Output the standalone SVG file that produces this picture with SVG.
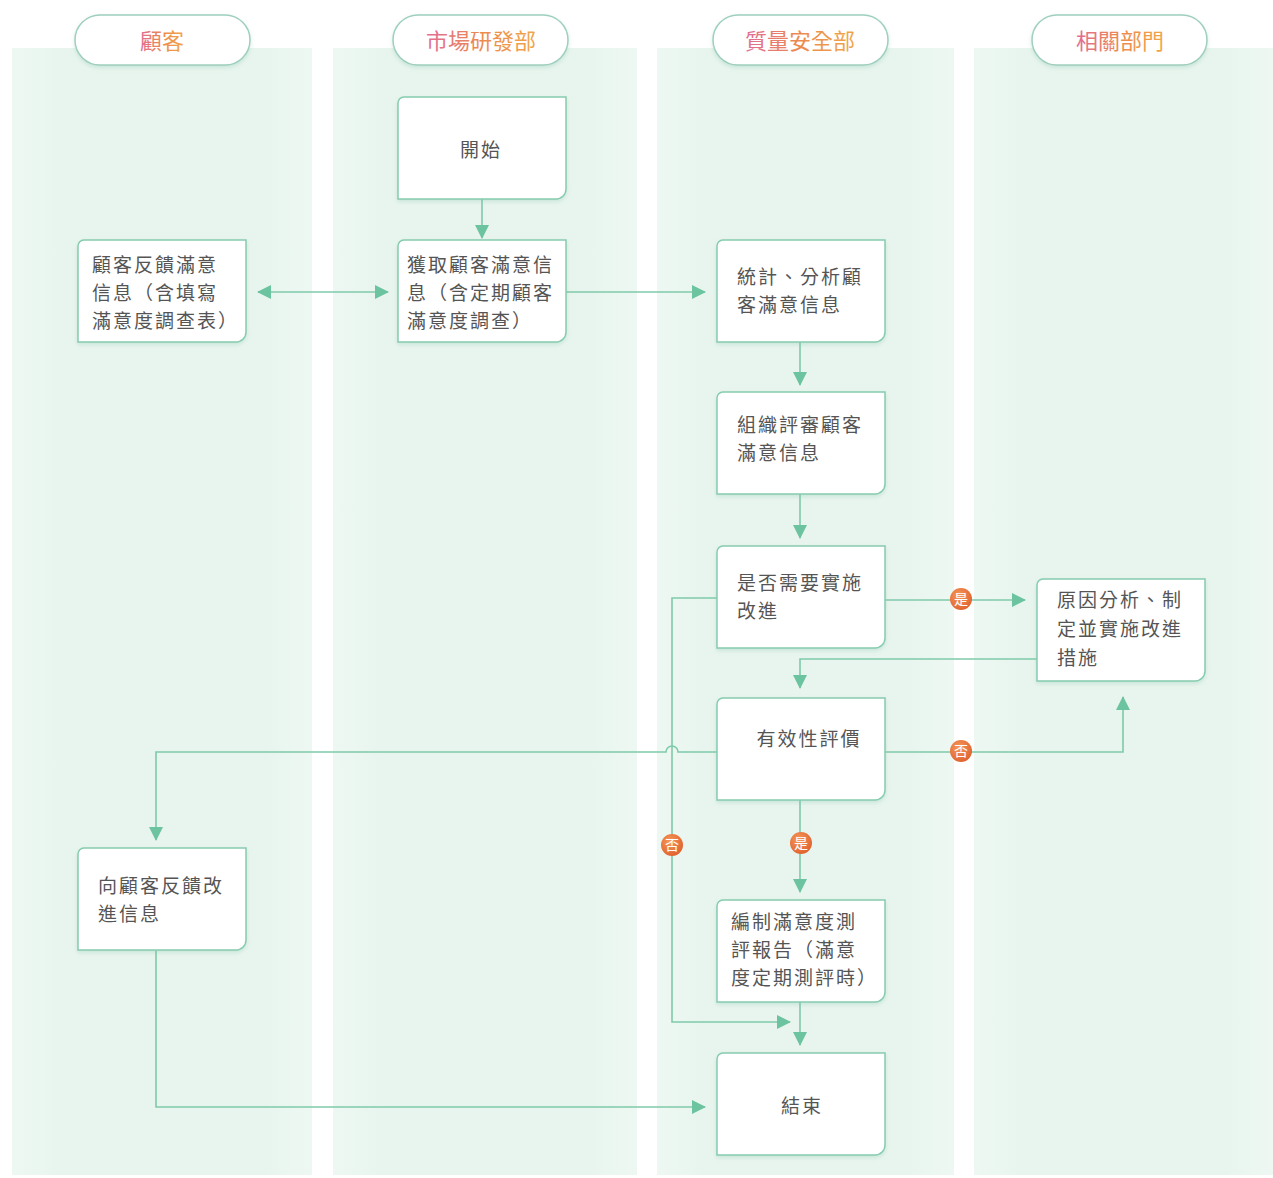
<svg xmlns="http://www.w3.org/2000/svg" width="1273" height="1178" viewBox="0 0 1273 1178">
<defs>
<linearGradient id="hg" x1="0" y1="0" x2="1" y2="0">
<stop offset="0" stop-color="#e06c96"/>
<stop offset="0.5" stop-color="#ec8a4e"/>
<stop offset="1" stop-color="#f0a64a"/>
</linearGradient>
<linearGradient id="lane" x1="0" y1="0" x2="1" y2="0">
<stop offset="0" stop-color="#eef8f3"/>
<stop offset="0.15" stop-color="#e8f5ee"/>
<stop offset="0.85" stop-color="#e8f5ee"/>
<stop offset="1" stop-color="#eef8f3"/>
</linearGradient>
<radialGradient id="bg" cx="0.4" cy="0.35" r="0.7">
<stop offset="0" stop-color="#f49a5c"/>
<stop offset="1" stop-color="#e0602c"/>
</radialGradient>
<marker id="ah" viewBox="0 0 14 14" refX="13" refY="7" markerWidth="14" markerHeight="14" markerUnits="userSpaceOnUse" orient="auto-start-reverse">
<path d="M0,0 L14,7 L0,14 Z" fill="#6cc3a0"/>
</marker>
<filter id="sh" x="-10%" y="-10%" width="120%" height="130%">
<feDropShadow dx="0" dy="2" stdDeviation="2" flood-color="#7fbfa5" flood-opacity="0.3"/>
</filter>
</defs>
<style>
.lane{fill:url(#lane)}
.pill{fill:#ffffff;stroke:#9fcfbe;stroke-width:1.5;filter:url(#sh)}
.ht{font-family:"Noto Sans CJK TC","Noto Sans CJK SC",sans-serif;font-size:22px;fill:url(#hg);text-anchor:middle}
.box{fill:#ffffff;stroke:#86ccb0;stroke-width:1.5;filter:url(#sh)}
.t{font-family:"Noto Sans CJK TC","Noto Sans CJK SC",sans-serif;font-size:19px;letter-spacing:2px;fill:#555555}
.tc{text-anchor:middle}
.ln{fill:none;stroke:#7fcaab;stroke-width:1.6}
.badge{fill:url(#bg)}
.bt{font-family:"Noto Sans CJK TC","Noto Sans CJK SC",sans-serif;font-size:14px;fill:#ffffff;text-anchor:middle}
</style>
<rect width="1273" height="1178" fill="#ffffff"/>
<g id="lanes">
<rect class="lane" x="12" y="48" width="300" height="1127"/>
<rect class="lane" x="333" y="48" width="304" height="1127"/>
<rect class="lane" x="657" y="48" width="297" height="1127"/>
<rect class="lane" x="974" y="48" width="299" height="1127"/>
</g>
<g id="headers">
<g id="h1"><rect class="pill" x="75" y="15" width="175" height="50" rx="25"/><text class="ht" x="162" y="49">顧客</text></g>
<g id="h2"><rect class="pill" x="393" y="15" width="175" height="50" rx="25"/><text class="ht" x="481" y="49">市場研發部</text></g>
<g id="h3"><rect class="pill" x="713" y="15" width="175" height="50" rx="25"/><text class="ht" x="800" y="49">質量安全部</text></g>
<g id="h4"><rect class="pill" x="1032" y="15" width="175" height="50" rx="25"/><text class="ht" x="1120" y="49">相關部門</text></g>
</g>
<g id="connectors">
<path class="ln" d="M482,199 V238" marker-end="url(#ah)"/>
<path class="ln" d="M258,292 H388" marker-start="url(#ah)" marker-end="url(#ah)"/>
<path class="ln" d="M566,292 H705" marker-end="url(#ah)"/>
<path class="ln" d="M800,342 V385" marker-end="url(#ah)"/>
<path class="ln" d="M800,494 V538" marker-end="url(#ah)"/>
<path class="ln" d="M885,600 H1025" marker-end="url(#ah)"/>
<path class="ln" d="M1037,659 H800 V688" marker-end="url(#ah)"/>
<path class="ln" d="M885,752 H1123 V697" marker-end="url(#ah)"/>
<path class="ln" d="M717,752 H678 A6,6 0 0 0 666,752 H156 V840" marker-end="url(#ah)"/>
<path class="ln" d="M717,598 H672 V1022 H790" marker-end="url(#ah)"/>
<path class="ln" d="M800,800 V892" marker-end="url(#ah)"/>
<path class="ln" d="M800,1002 V1045" marker-end="url(#ah)"/>
<path class="ln" d="M156,950 V1107 H705" marker-end="url(#ah)"/>
<g id="badges">
<circle class="badge" cx="961" cy="599" r="11"/><text class="bt" x="961" y="604">是</text>
<circle class="badge" cx="961" cy="751" r="11"/><text class="bt" x="961" y="756">否</text>
<circle class="badge" cx="672" cy="845" r="11"/><text class="bt" x="672" y="850">否</text>
<circle class="badge" cx="801" cy="843" r="11"/><text class="bt" x="801" y="848">是</text>
</g>
</g>
<g id="n-start"><path class="box" d="M398,103 A6,6 0 0 1 404,97 H566 V189 A10,10 0 0 1 556,199 H398 Z"/><text class="t tc" x="481" y="157">開始</text></g>
<g id="n-feedback"><path class="box" d="M78,246 A6,6 0 0 1 84,240 H246 V332 A10,10 0 0 1 236,342 H78 Z"/><text class="t"><tspan x="92" y="272">顧客反饋滿意</tspan><tspan x="92" y="300">信息（含填寫</tspan><tspan x="92" y="328">滿意度調查表）</tspan></text></g>
<g id="n-obtain"><path class="box" d="M398,246 A6,6 0 0 1 404,240 H566 V332 A10,10 0 0 1 556,342 H398 Z"/><text class="t"><tspan x="407" y="272">獲取顧客滿意信</tspan><tspan x="407" y="300">息（含定期顧客</tspan><tspan x="407" y="328">滿意度調查）</tspan></text></g>
<g id="n-stats"><path class="box" d="M717,246 A6,6 0 0 1 723,240 H885 V332 A10,10 0 0 1 875,342 H717 Z"/><text class="t"><tspan x="737" y="284">統計、分析顧</tspan><tspan x="737" y="312">客滿意信息</tspan></text></g>
<g id="n-review"><path class="box" d="M717,398 A6,6 0 0 1 723,392 H885 V484 A10,10 0 0 1 875,494 H717 Z"/><text class="t"><tspan x="737" y="432">組織評審顧客</tspan><tspan x="737" y="460">滿意信息</tspan></text></g>
<g id="n-decide"><path class="box" d="M717,552 A6,6 0 0 1 723,546 H885 V638 A10,10 0 0 1 875,648 H717 Z"/><text class="t"><tspan x="737" y="590">是否需要實施</tspan><tspan x="737" y="618">改進</tspan></text></g>
<g id="n-cause"><path class="box" d="M1037,585 A6,6 0 0 1 1043,579 H1205 V671 A10,10 0 0 1 1195,681 H1037 Z"/><text class="t"><tspan x="1057" y="607">原因分析、制</tspan><tspan x="1057" y="636">定並實施改進</tspan><tspan x="1057" y="665">措施</tspan></text></g>
<g id="n-eval"><path class="box" d="M717,704 A6,6 0 0 1 723,698 H885 V790 A10,10 0 0 1 875,800 H717 Z"/><text class="t tc" x="809" y="746">有效性評價</text></g>
<g id="n-inform"><path class="box" d="M78,854 A6,6 0 0 1 84,848 H246 V940 A10,10 0 0 1 236,950 H78 Z"/><text class="t"><tspan x="98" y="893">向顧客反饋改</tspan><tspan x="98" y="921">進信息</tspan></text></g>
<g id="n-report"><path class="box" d="M717,906 A6,6 0 0 1 723,900 H885 V992 A10,10 0 0 1 875,1002 H717 Z"/><text class="t"><tspan x="731" y="929">編制滿意度測</tspan><tspan x="731" y="957">評報告（滿意</tspan><tspan x="731" y="985">度定期測評時）</tspan></text></g>
<g id="n-end"><path class="box" d="M717,1059 A6,6 0 0 1 723,1053 H885 V1145 A10,10 0 0 1 875,1155 H717 Z"/><text class="t tc" x="802" y="1113">結束</text></g>
</svg>
